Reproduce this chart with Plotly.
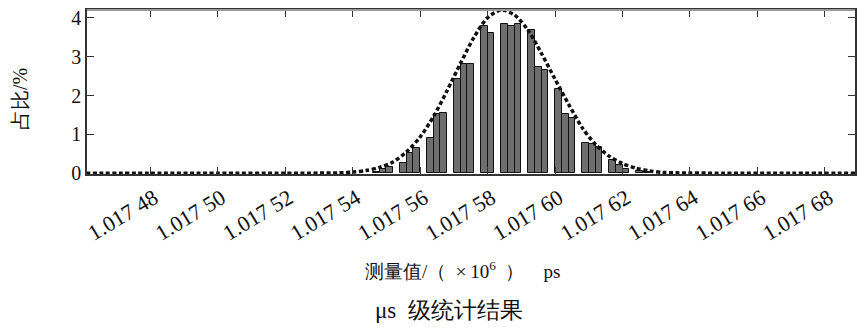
import plotly.graph_objects as go

# tick values / labels
x_ticks = [1.01748, 1.01750, 1.01752, 1.01754, 1.01756, 1.01758,
           1.01760, 1.01762, 1.01764, 1.01766, 1.01768]
x_tick_labels = ["1.017 48", "1.017 50", "1.017 52", "1.017 54", "1.017 56",
                 "1.017 58", "1.017 60", "1.017 62", "1.017 64", "1.017 66",
                 "1.017 68"]
y_ticks = [0, 1, 2, 3, 4]

# histogram bars (bin centres, percentage)
bar_x = [1.017547, 1.017549, 1.017551, 1.017555, 1.017557, 1.017559,
         1.017563, 1.017565, 1.017567, 1.017571, 1.017573, 1.017575,
         1.017579, 1.017581, 1.017585, 1.017587, 1.017589, 1.017593,
         1.017595, 1.017597, 1.017601, 1.017603, 1.017605, 1.017609,
         1.017611, 1.017613, 1.017617, 1.017619, 1.017621, 1.017625,
         1.017627]
bar_y = [0.03, 0.10, 0.15, 0.27, 0.52, 0.65,
         0.90, 1.53, 1.55, 2.42, 2.80, 2.80,
         3.80, 3.62, 3.85, 3.80, 3.83, 3.68,
         2.73, 2.65, 2.17, 1.53, 1.42, 0.78,
         0.75, 0.68, 0.35, 0.20, 0.12, 0.05,
         0.03]
bin_width = 0.000002

# fitted curve
curve_x = [1.017461, 1.017480, 1.017500, 1.017520, 1.017536, 1.017540,
           1.017544, 1.017548, 1.017552, 1.017556, 1.017560, 1.017564,
           1.017568, 1.017572, 1.017576, 1.017580, 1.017584, 1.017588,
           1.017592, 1.017596, 1.017600, 1.017604, 1.017608, 1.017612,
           1.017616, 1.017620, 1.017624, 1.017628, 1.017632, 1.017636,
           1.017650, 1.017670, 1.017689]
curve_y = [0.0, 0.0, 0.0, 0.0, 0.01, 0.03,
           0.07, 0.15, 0.29, 0.55, 0.93, 1.46,
           2.12, 2.83, 3.50, 4.00, 4.20, 4.07,
           3.68, 3.08, 2.42, 1.78, 1.18, 0.74,
           0.44, 0.25, 0.13, 0.06, 0.02, 0.01,
           0.0, 0.0, 0.0]

serif = "Times New Roman"

fig = go.Figure()
fig.add_trace(go.Bar(
    x=bar_x, y=bar_y, width=bin_width,
    marker=dict(color="#6e6e6e", line=dict(color="#111111", width=1)),
    showlegend=False,
))
fig.add_trace(go.Scatter(
    x=curve_x, y=curve_y, mode="lines",
    line=dict(color="#111111", width=3.5, dash="4px,2.5px", shape="spline", smoothing=0.8),
    showlegend=False, cliponaxis=False,
))

fig.update_layout(
    width=868, height=335,
    margin=dict(l=87, r=13, t=7, b=161),
    paper_bgcolor="white", plot_bgcolor="white",
    bargap=0,
    font=dict(family=serif, color="#111111", size=19),
    xaxis=dict(
        range=[1.0174613, 1.0176889],
        tickmode="array", tickvals=x_ticks, ticktext=x_tick_labels,
        tickangle=-31, ticks="inside", ticklen=7, tickcolor="#333333",
        ticklabelstandoff=1, ticklabelshift=4,
        showline=True, linecolor="#333333", linewidth=1.5, mirror="ticks",
        showgrid=False, zeroline=False,
        tickfont=dict(family=serif, size=22, color="#111111"),
    ),
    yaxis=dict(
        range=[-0.02, 4.2],
        tickmode="array", tickvals=y_ticks,
        ticks="inside", ticklen=7, tickcolor="#333333",
        showline=True, linecolor="#333333", linewidth=1.5, mirror="ticks",
        showgrid=False, zeroline=False,
        tickfont=dict(family=serif, size=20, color="#111111"),
    ),
    shapes=[dict(type="line", xref="paper", yref="paper", x0=0, x1=1, y0=1, y1=1,
                 line=dict(color="#9a9a9a", width=2), layer="above")],
    annotations=[
        dict(text="占比/%", textangle=-90, xref="paper", yref="paper",
             x=-0.088, y=0.46, xanchor="center", yanchor="middle",
             showarrow=False, font=dict(family=serif, size=20, color="#111111")),
        dict(text="测量值/（\u2002×\u200910<sup>6</sup>\u2002）\u2003ps", xref="paper", yref="paper",
             x=0.489, y=-0.585, xanchor="center", yanchor="middle",
             showarrow=False, font=dict(family=serif, size=19, color="#111111")),
        dict(text="μs\u2002级统计结果", xref="paper", yref="paper",
             x=0.472, y=-0.83, xanchor="center", yanchor="middle",
             showarrow=False, font=dict(family=serif, size=23, color="#111111")),
    ],
)

fig.write_html("out.html")
